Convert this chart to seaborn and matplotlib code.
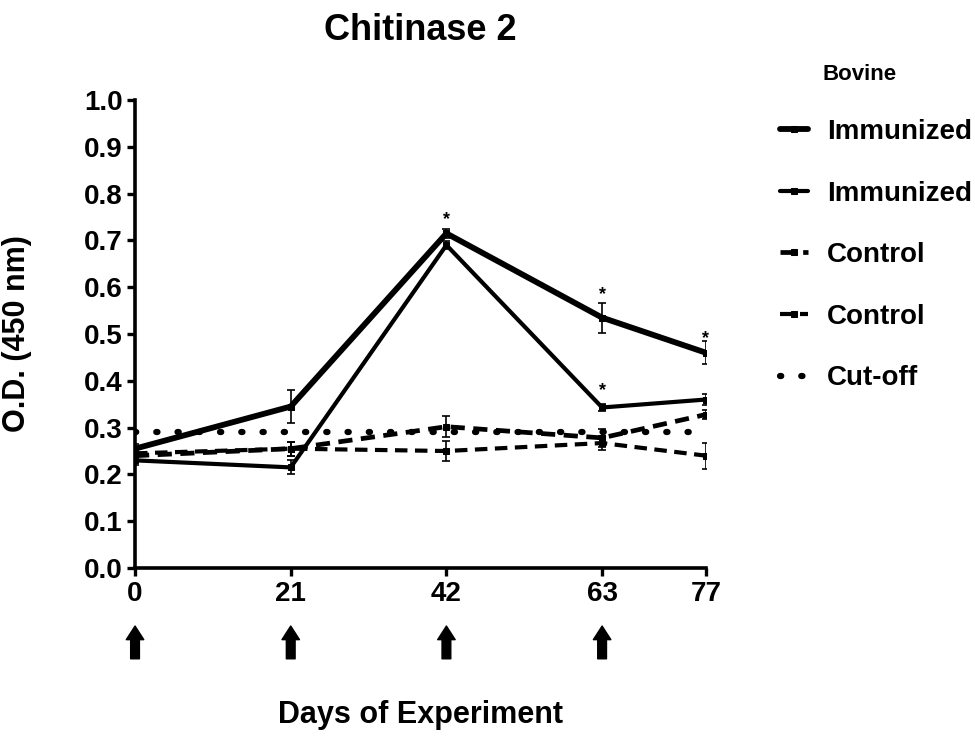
import numpy as np
import pandas as pd
import matplotlib
matplotlib.use("Agg")
import matplotlib.pyplot as plt
import seaborn as sns

# -----------------------------
# DATA
# -----------------------------
days = [0, 21, 42, 63, 77]
boost_days = [0, 21, 42, 63]

imm1 = [0.255, 0.345, 0.715, 0.535, 0.46]
imm1_err = [0.010, 0.035, 0.010, 0.032, 0.025]
imm2 = [0.230, 0.215, 0.690, 0.343, 0.360]
imm2_err = [0.010, 0.015, 0.008, 0.008, 0.012]
ctl1 = [0.240, 0.255, 0.302, 0.278, 0.328]
ctl1_err = [0.010, 0.015, 0.022, 0.020, 0.010]
ctl2 = [0.245, 0.255, 0.250, 0.267, 0.240]
ctl2_err = [0.010, 0.015, 0.022, 0.015, 0.028]
cutoff = [0.29, 0.29, 0.29, 0.29, 0.29]

star_x = [42, 63, 63, 77]
star_y = [0.745, 0.585, 0.38, 0.49]

y_ticks = [0.0, 0.1, 0.2, 0.3, 0.4, 0.5, 0.6, 0.7, 0.8, 0.9, 1.0]

# -----------------------------
# STYLE
# -----------------------------
sns.set_style("ticks")
plt.rcParams['font.family'] = ['Liberation Sans', 'DejaVu Sans']
plt.rcParams['font.weight'] = 'bold'
plt.rcParams['text.color'] = 'black'
plt.rcParams['axes.labelcolor'] = 'black'
plt.rcParams['xtick.color'] = 'black'
plt.rcParams['ytick.color'] = 'black'
plt.rcParams['axes.edgecolor'] = 'black'

fig = plt.figure(figsize=(9.75, 7.37), dpi=100)
ax = fig.add_axes([0.1385, 0.2293, 0.5855, 0.635])

series = [
    ("Immunized", imm1, imm1_err, "-", 4.2),
    ("Immunized", imm2, imm2_err, "-", 3.0),
    ("Control", ctl1, ctl1_err, (0, (3, 1.8)), 3.4),
    ("Control", ctl2, ctl2_err, (0, (3, 1.8)), 3.0),
]

for name, vals, err, ls, lw in series:
    sns.lineplot(x=days, y=vals, ax=ax, color="black", linewidth=lw,
                 linestyle=ls, marker="s", markersize=5,
                 markeredgecolor="black", label=name)
    ax.errorbar(days, vals, yerr=err, fmt="none", ecolor="black",
                elinewidth=1.2, capsize=3, capthick=1.2)

sns.lineplot(x=days, y=cutoff, ax=ax, color="black", linewidth=4.5,
             linestyle=(0, (0.2, 3.2)), label="Cut-off")
ax.lines[-1].set_dash_capstyle("round")

for sx, sy in zip(star_x, star_y):
    ax.text(sx, sy, "*", ha="center", va="center", fontsize=13)

# -----------------------------
# AXES
# -----------------------------
ax.set_xlim(0, 77)
ax.set_ylim(0, 1.0)
ax.set_xticks(days)
ax.set_yticks(y_ticks)
ax.set_yticklabels([f"{v:.1f}" for v in y_ticks])
sns.despine(ax=ax)
for s in ["left", "bottom"]:
    ax.spines[s].set_linewidth(2.6)
ax.tick_params(axis="both", length=6, width=2.4, labelsize=20, pad=3)
for lab in ax.get_xticklabels() + ax.get_yticklabels():
    lab.set_fontweight("bold")

ax.set_xlabel("Days of Experiment", fontsize=22, fontweight="bold")
ax.set_ylabel("O.D. (450 nm)", fontsize=22, fontweight="bold")
ax.xaxis.set_label_coords(0.5, -0.282)
ax.yaxis.set_label_coords(-0.18, 0.5)

# immunization arrows under the day axis
for d in boost_days:
    ax.annotate("", xy=(d, -0.124), xytext=(d, -0.194),
                xycoords=("data", "axes fraction"),
                textcoords=("data", "axes fraction"),
                arrowprops=dict(arrowstyle="simple,head_width=0.9,head_length=0.7,tail_width=0.45",
                                color="black", mutation_scale=14, shrinkA=0, shrinkB=0),
                annotation_clip=False)

fig.text(0.4315, 1 - 30 / 737, "Chitinase 2", ha="center", va="center",
         fontsize=26, fontweight="bold")

# -----------------------------
# LEGEND
# -----------------------------
fig.text(822 / 975, 1 - 75 / 737, "Bovine", ha="left", va="center",
         fontsize=16, fontweight="bold")
handles, labels = ax.get_legend_handles_labels()
leg = ax.legend(handles, labels, loc="upper left",
                bbox_to_anchor=(780 / 975, 1 - 119 / 737),
                bbox_transform=fig.transFigure, frameon=False,
                fontsize=20, handlelength=1.0, handletextpad=0.7,
                labelspacing=1.28, borderpad=0, borderaxespad=0)
for t in leg.get_texts():
    t.set_fontweight("bold")

fig.savefig("out.png", dpi=100)
